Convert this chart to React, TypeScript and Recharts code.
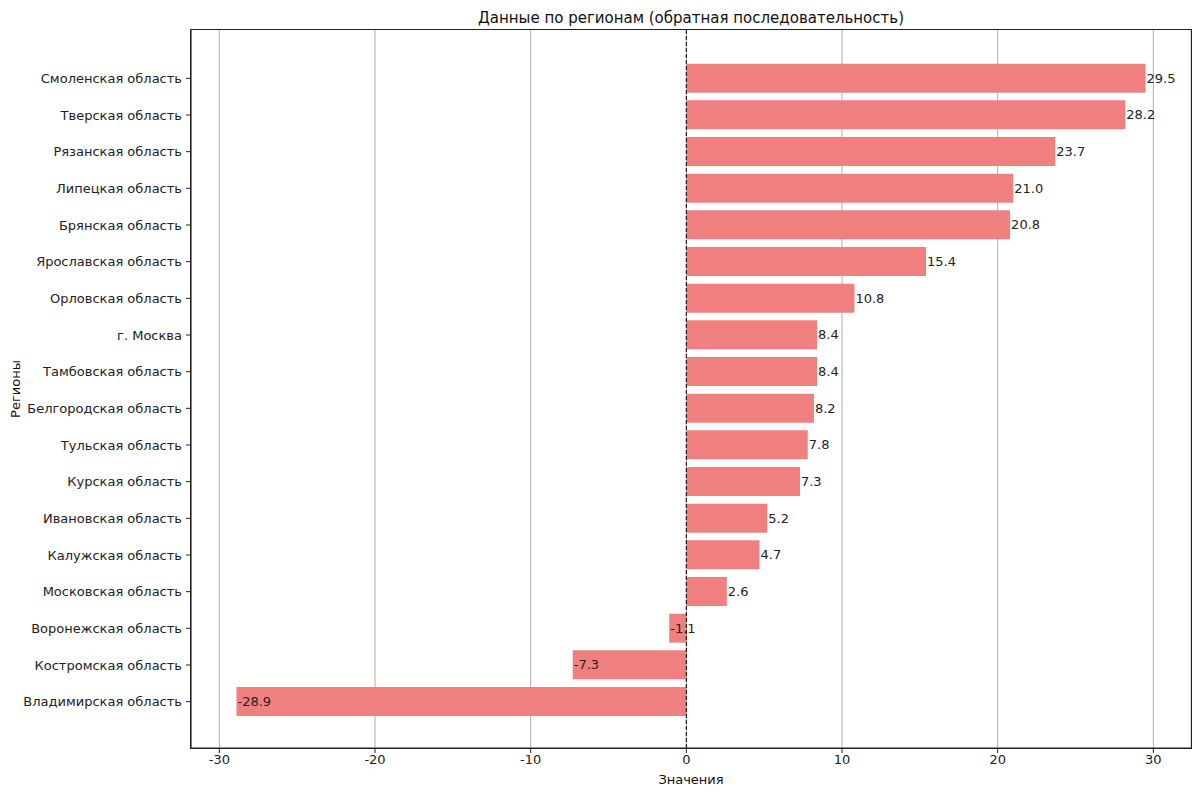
import React from "react";
import {
  Bar,
  BarChart,
  CartesianGrid,
  LabelList,
  ReferenceLine,
  XAxis,
  YAxis,
} from "recharts";

const regions = [
  "Смоленская область",
  "Тверская область",
  "Рязанская область",
  "Липецкая область",
  "Брянская область",
  "Ярославская область",
  "Орловская область",
  "г. Москва",
  "Тамбовская область",
  "Белгородская область",
  "Тульская область",
  "Курская область",
  "Ивановская область",
  "Калужская область",
  "Московская область",
  "Воронежская область",
  "Костромская область",
  "Владимирская область",
];

const values = [29.5, 28.2, 23.7, 21.0, 20.8, 15.4, 10.8, 8.4, 8.4, 8.2, 7.8, 7.3, 5.2, 4.7, 2.6, -1.1, -7.3, -28.9];

const xTicks = [-30, -20, -10, 0, 10, 20, 30];
const xDomain = [-31.82, 32.42];

const data = regions.map((name, i) => ({ name, value: values[i] }));

const FONT = "'DejaVu Sans', sans-serif";

function ValueLabel(props: any) {
  const { x, y, width, height, value } = props;
  const a = Number(x);
  const b = Number(x) + Number(width);
  const end = value >= 0 ? Math.max(a, b) : Math.min(a, b);
  return (
    <text
      x={end + 1}
      y={Number(y) + Number(height) / 2}
      dominantBaseline="central"
      textAnchor="start"
      fontSize={13}
      fontFamily={FONT}
      fill="#222"
    >
      {Number(value).toFixed(1)}
    </text>
  );
}

function YTitle(props: any) {
  const vb = props.viewBox || {};
  const cx = 15;
  const cy = Number(vb.y) + Number(vb.height) / 2;
  return (
    <text
      x={cx}
      y={cy}
      transform={`rotate(-90 ${cx} ${cy})`}
      textAnchor="middle"
      dominantBaseline="central"
      fontSize={13}
      fontFamily={FONT}
      fill="#111"
    >
      Регионы
    </text>
  );
}

export default function App() {
  return (
    <div style={{ position: "fixed", left: 0, top: 0, width: 1200, height: 796, background: "#fff", fontFamily: FONT }}>
      <div
        style={{
          position: "absolute",
          left: 191,
          width: 1000,
          top: 8,
          textAlign: "center",
          fontSize: 15,
          color: "#111",
          lineHeight: "20px",
        }}
      >
        Данные по регионам (обратная последовательность)
      </div>
      <BarChart
        width={1200}
        height={796}
        data={data}
        layout="vertical"
        margin={{ top: 30, right: 9, bottom: 0, left: 0 }}
        barCategoryGap="10%"
      >
        <CartesianGrid horizontal={false} stroke="#b0b0b0" strokeWidth={1} />
        <XAxis
          type="number"
          domain={xDomain}
          ticks={xTicks}
          allowDataOverflow
          height={48}
          stroke="#222"
          tickSize={5}
          tick={{ fontSize: 13, fill: "#222", fontFamily: FONT }}
          label={{ value: "Значения", position: "insideBottom", offset: 12, fontSize: 13, fill: "#111", fontFamily: FONT }}
        />
        <YAxis
          type="category"
          dataKey="name"
          width={191}
          padding={{ top: 30, bottom: 28 }}
          stroke="#222"
          tickSize={5}
          tickMargin={4}
          interval={0}
          tick={{ fontSize: 13, fill: "#222", fontFamily: FONT }}
          label={<YTitle />}
        />
        <Bar dataKey="value" fill="#F08080" isAnimationActive={false}>
          <LabelList dataKey="value" content={<ValueLabel />} />
        </Bar>
        <ReferenceLine x={0} stroke="#000" strokeDasharray="4 2" strokeWidth={1} />
      </BarChart>
      <div
        style={{
          position: "absolute",
          left: 190,
          top: 29,
          width: 1000,
          height: 718,
          border: "1px solid #222",
          pointerEvents: "none",
        }}
      />
    </div>
  );
}
